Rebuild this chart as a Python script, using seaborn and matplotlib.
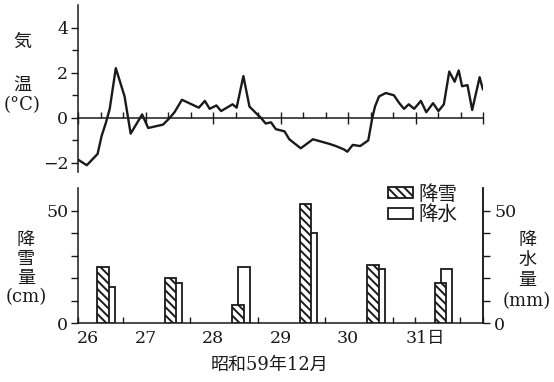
import numpy as np
import pandas as pd
import matplotlib
matplotlib.use("Agg")
import matplotlib.pyplot as plt
from matplotlib.patches import Patch
from matplotlib.ticker import MultipleLocator, FixedLocator
import seaborn as sns

sns.set_theme(style="white")
plt.rcParams["font.family"] = ["DejaVu Serif", "Noto Sans CJK JP"]
plt.rcParams["axes.unicode_minus"] = True
plt.rcParams["hatch.linewidth"] = 1.4

# Air temperature, 26-31 Dec (x in fractional days)
temp_day = [26.00, 26.13, 26.29, 26.35, 26.41, 26.47, 26.56, 26.69, 26.78, 26.95,
            27.04, 27.26, 27.36, 27.43, 27.54, 27.79, 27.88, 27.95, 28.05, 28.12,
            28.29, 28.35, 28.45, 28.54, 28.64, 28.71, 28.78, 28.86, 28.93, 29.06,
            29.13, 29.30, 29.48, 29.72, 29.82, 29.94, 29.99, 30.07, 30.18, 30.30,
            30.36, 30.40, 30.46, 30.56, 30.68, 30.76, 30.83, 30.90, 30.98, 31.08,
            31.16, 31.26, 31.34, 31.42, 31.50, 31.58, 31.64, 31.69, 31.77, 31.84,
            31.95, 32.00]
temp_c = [-1.85, -2.1, -1.6, -0.8, -0.25, 0.4, 2.2, 0.95, -0.7, 0.15,
          -0.45, -0.3, 0.0, 0.25, 0.8, 0.45, 0.75, 0.4, 0.55, 0.3,
          0.6, 0.45, 1.85, 0.5, 0.2, 0.0, -0.25, -0.2, -0.5, -0.6,
          -0.95, -1.35, -0.95, -1.15, -1.25, -1.4, -1.5, -1.2, -1.25, -1.0,
          0.0, 0.5, 0.95, 1.1, 1.0, 0.65, 0.4, 0.6, 0.4, 0.75,
          0.25, 0.65, 0.3, 0.6, 2.05, 1.6, 2.1, 1.4, 1.45, 0.35,
          1.8, 1.25]

# Daily snowfall (cm) and precipitation (mm)
days = [26, 27, 28, 29, 30, 31]
snow_cm = [25, 20, 8, 53, 26, 18]
precip_mm = [16, 18, 25, 40, 24, 24]

day_labels = ["26", "27", "28", "29", "30", "31日"]
day_label_pos = [26.15, 27, 28, 29, 30, 31.15]

temp_df = pd.DataFrame({"day": temp_day, "temp": temp_c})
snow_df = pd.DataFrame({"x": [d + 0.37 for d in days], "v": snow_cm})
rain_df = pd.DataFrame({"x": [d + 0.46 for d in days], "v": precip_mm})

fig = plt.figure(figsize=(5.54, 3.82), dpi=100)
fig.patch.set_facecolor("white")

L, W = 78 / 554, 405 / 554
ax_t = fig.add_axes([L, 1 - 172 / 382, W, 167 / 382])
ax_b = fig.add_axes([L, 1 - 323 / 382, W, 135 / 382])

lw_axis = 1.1
ink = "#1a1a1a"
num_size = 12.5

# ---- temperature panel ----
sns.lineplot(data=temp_df, x="day", y="temp", ax=ax_t, color=ink, lw=1.7,
             estimator=None, sort=False)
ax_t.set_xlim(26, 32)
ax_t.set_ylim(-2.4, 5.0)
for s in ["top", "right"]:
    ax_t.spines[s].set_visible(False)
ax_t.spines["left"].set_color(ink)
ax_t.spines["left"].set_linewidth(lw_axis)
ax_t.spines["bottom"].set_position(("data", 0))
ax_t.spines["bottom"].set_color(ink)
ax_t.spines["bottom"].set_linewidth(lw_axis)
ax_t.set_yticks([-2, 0, 2, 4])
ax_t.set_yticklabels(["−2", "0", "2", "4"])
ax_t.yaxis.set_minor_locator(FixedLocator([-1, 1, 3]))
ax_t.tick_params(axis="y", which="major", direction="out", length=5, width=1,
                 color=ink, labelsize=num_size, pad=2, left=True, labelcolor=ink)
ax_t.tick_params(axis="y", which="minor", direction="out", length=4, width=1,
                 color=ink, left=True)
ax_t.set_xticks(days + [32])
ax_t.xaxis.set_minor_locator(MultipleLocator(1 / 3))
ax_t.tick_params(axis="x", which="major", direction="inout", length=8, width=1,
                 color=ink, bottom=True, labelbottom=False)
ax_t.tick_params(axis="x", which="minor", direction="in", length=4, width=1,
                 color=ink, bottom=True)
ax_t.set_xlabel("")
ax_t.set_ylabel("")
ax_t.patch.set_alpha(0)

# ---- snow / precipitation panel ----
sns.barplot(data=rain_df, x="x", y="v", native_scale=True, width=0.17,
            color="white", saturation=1, edgecolor=ink, linewidth=1.3,
            errorbar=None, ax=ax_b, zorder=3)
sns.barplot(data=snow_df, x="x", y="v", native_scale=True, width=0.17,
            color="white", saturation=1, edgecolor=ink, linewidth=1.3,
            errorbar=None, ax=ax_b, zorder=4, hatch="\\\\\\\\")
ax_b.set_xlim(26, 32)
ax_b.set_ylim(0, 60)
ax_b.spines["top"].set_visible(False)
for s in ["left", "right", "bottom"]:
    ax_b.spines[s].set_color(ink)
    ax_b.spines[s].set_linewidth(lw_axis)
ax_b.set_yticks([0, 50])
ax_b.yaxis.set_minor_locator(FixedLocator([10, 20, 30, 40]))
ax_b.tick_params(axis="y", which="both", direction="out", length=5, width=1,
                 color=ink, left=True, labelsize=num_size, pad=2, labelcolor=ink)
ax_b.set_xticks(day_label_pos)
ax_b.set_xticklabels(day_labels)
ax_b.xaxis.set_minor_locator(FixedLocator(np.arange(26, 32.01, 1 / 3)))
ax_b.tick_params(axis="x", which="major", length=0, labelsize=num_size, pad=5,
                 labelcolor=ink)
ax_b.tick_params(axis="x", which="minor", direction="in", length=4, width=1,
                 color=ink, bottom=True)
ax_b.set_xlabel("")
ax_b.set_ylabel("")
ax_b.patch.set_alpha(0)

ax_r = ax_b.twinx()
ax_r.set_ylim(0, 60)
for s in ["top", "left", "bottom"]:
    ax_r.spines[s].set_visible(False)
ax_r.spines["right"].set_color(ink)
ax_r.spines["right"].set_linewidth(lw_axis)
ax_r.set_yticks([0, 50])
ax_r.yaxis.set_minor_locator(FixedLocator([10, 20, 30, 40]))
ax_r.tick_params(axis="y", which="both", direction="out", length=5, width=1,
                 color=ink, right=True, labelsize=num_size, pad=3, labelcolor=ink)
ax_r.grid(False)

# legend
handles = [Patch(facecolor="white", edgecolor=ink, hatch="\\\\\\\\", lw=1.3),
           Patch(facecolor="white", edgecolor=ink, lw=1.3)]
leg = ax_b.legend(handles, ["降雪", "降水"], loc="upper left",
                  bbox_to_anchor=(0.745, 1.08), frameon=False, fontsize=14,
                  handlelength=1.3, handleheight=0.5, handletextpad=0.3,
                  labelspacing=0.1, borderaxespad=0)
for t in leg.get_texts():
    t.set_color(ink)

# side labels, written vertically
def vlabel(x, ys, chars, size=13):
    for y, c in zip(ys, chars):
        fig.text(x / 554, 1 - y / 382, c, ha="center", va="center",
                 fontsize=size, color=ink)

vlabel(22, [42, 85, 105], ["気", "温", "(°C)"])
vlabel(26, [240, 259, 278, 297], ["降", "雪", "量", "(cm)"])
vlabel(527, [240, 260, 280, 301], ["降", "水", "量", "(mm)"])

fig.text(270 / 554, 1 - 365 / 382, "昭和59年12月", ha="center", va="center",
         fontsize=13, color=ink)

fig.savefig("out.png", dpi=100, facecolor="white")
